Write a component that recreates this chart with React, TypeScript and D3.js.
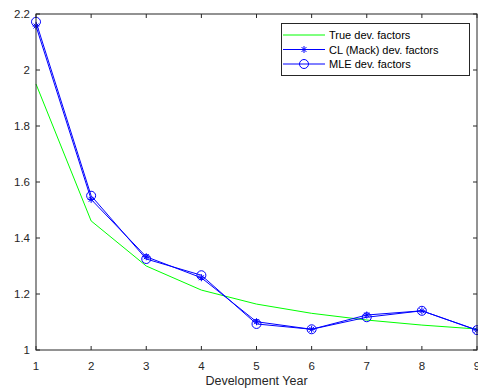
import React from "react";
import * as d3 from "d3";

const years = [1, 2, 3, 4, 5, 6, 7, 8, 9];
const trueFactors = [1.95, 1.461, 1.3, 1.214, 1.164, 1.131, 1.107, 1.089, 1.075];
const clFactors = [2.157, 1.538, 1.333, 1.258, 1.101, 1.074, 1.125, 1.14, 1.071];
const mleFactors = [2.172, 1.551, 1.325, 1.267, 1.093, 1.074, 1.117, 1.14, 1.071];
const xTicks = [1, 2, 3, 4, 5, 6, 7, 8, 9];
const yTicks = [1, 1.2, 1.4, 1.6, 1.8, 2, 2.2];
const legendLabels = ["True dev. factors", "CL (Mack) dev. factors", "MLE dev. factors"];

export default function App() {
  const W = 478, H = 390;
  const L = 36, R = 477, T = 14, B = 350;
  const x = d3.scaleLinear().domain([1, 9]).range([L, R]);
  const y = d3.scaleLinear().domain([1, 2.2]).range([B, T]);
  const line = d3.line<number>().x((_, i) => x(years[i])).y((d) => y(d));
  const font = "'Liberation Sans', Arial, sans-serif";
  const tk = 4;
  const star = (cx: number, cy: number, k: string) => {
    const r = 3.5;
    return (
      <g key={k} stroke="#0000ff" strokeWidth={1}>
        <line x1={cx - r} y1={cy} x2={cx + r} y2={cy} />
        <line x1={cx} y1={cy - r} x2={cx} y2={cy + r} />
        <line x1={cx - r * 0.7} y1={cy - r * 0.7} x2={cx + r * 0.7} y2={cy + r * 0.7} />
        <line x1={cx - r * 0.7} y1={cy + r * 0.7} x2={cx + r * 0.7} y2={cy - r * 0.7} />
      </g>
    );
  };
  return (
    <svg width={W} height={H} style={{ position: "absolute", left: 0, top: 0 }}>
      <rect x={0} y={0} width={W} height={H} fill="#fff" />
      <path d={line(trueFactors) || ""} fill="none" stroke="#00ff00" strokeWidth={1} />
      <path d={line(clFactors) || ""} fill="none" stroke="#0000ff" strokeWidth={1} />
      {clFactors.map((v, i) => star(x(years[i]), y(v), "s" + i))}
      <path d={line(mleFactors) || ""} fill="none" stroke="#0000ff" strokeWidth={1} />
      {mleFactors.map((v, i) => (
        <circle key={"c" + i} cx={x(years[i])} cy={y(v)} r={4.5} fill="none" stroke="#0000ff" strokeWidth={1} />
      ))}
      <rect x={L} y={T} width={R - L} height={B - T} fill="none" stroke="#262626" strokeWidth={1} />
      {xTicks.map((t) => (
        <g key={"xt" + t}>
          <line x1={x(t)} x2={x(t)} y1={B} y2={B - tk} stroke="#262626" />
          <line x1={x(t)} x2={x(t)} y1={T} y2={T + tk} stroke="#262626" />
          <text x={x(t)} y={370} textAnchor="middle" fontFamily={font} fontSize={11.5} fill="#262626">
            {t}
          </text>
        </g>
      ))}
      {yTicks.map((t) => (
        <g key={"yt" + t}>
          <line x1={L} x2={L + tk} y1={y(t)} y2={y(t)} stroke="#262626" />
          <line x1={R} x2={R - tk} y1={y(t)} y2={y(t)} stroke="#262626" />
          <text x={30} y={y(t) + 4} textAnchor="end" fontFamily={font} fontSize={11.5} fill="#262626">
            {d3.format("")(t)}
          </text>
        </g>
      ))}
      <text x={(L + R) / 2} y={385} textAnchor="middle" fontFamily={font} fontSize={12.5} fill="#262626">
        Development Year
      </text>
      <g>
        <rect x={281.5} y={23.5} width={188} height={52} fill="#fff" stroke="#262626" strokeWidth={1} />
        {legendLabels.map((lab, i) => {
          const ly = 35 + i * 14.5;
          return (
            <g key={"lg" + i}>
              <line x1={283} x2={325} y1={ly} y2={ly} stroke={i === 0 ? "#00ff00" : "#0000ff"} />
              {i === 1 && star(304, ly, "ls")}
              {i === 2 && <circle cx={304} cy={ly} r={4.5} fill="none" stroke="#0000ff" />}
              <text x={329} y={ly + 4} fontFamily={font} fontSize={11} fill="#000">
                {lab}
              </text>
            </g>
          );
        })}
      </g>
    </svg>
  );
}
